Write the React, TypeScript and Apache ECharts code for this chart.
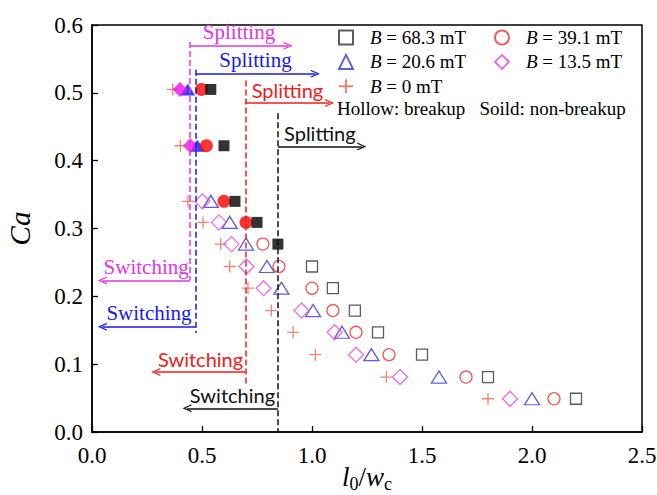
import React, { useEffect, useRef } from "react";
import * as echarts from "echarts";

// Ca vs l0/wc for each magnetic flux density B.
// "Solid" points did not break up, "hollow" points broke up.
const sq683Solid = [[0.54, 0.505], [0.6, 0.422], [0.65, 0.34], [0.75, 0.309], [0.845, 0.277]];
const sq683Hollow = [[1.0, 0.244], [1.095, 0.212], [1.195, 0.179], [1.3, 0.147], [1.5, 0.114], [1.8, 0.081], [2.2, 0.049]];

const ci391Solid = [[0.497, 0.505], [0.52, 0.422], [0.6, 0.34], [0.7, 0.309]];
const ci391Hollow = [[0.777, 0.277], [0.85, 0.244], [1.0, 0.212], [1.095, 0.179], [1.2, 0.147], [1.35, 0.114], [1.7, 0.081], [2.1, 0.049]];

const tr206Solid = [[0.435, 0.505], [0.48, 0.422]];
const tr206Hollow = [[0.54, 0.34], [0.626, 0.309], [0.7, 0.277], [0.795, 0.244], [0.861, 0.212], [1.005, 0.179], [1.136, 0.147], [1.27, 0.114], [1.577, 0.081], [2.0, 0.049]];

const di135Solid = [[0.4, 0.505], [0.447, 0.422]];
const di135Hollow = [[0.502, 0.34], [0.577, 0.309], [0.634, 0.277], [0.702, 0.244], [0.78, 0.212], [0.952, 0.179], [1.103, 0.147], [1.2, 0.114], [1.4, 0.081], [1.9, 0.049]];

const plus0 = [[0.367, 0.505], [0.402, 0.422], [0.436, 0.34], [0.505, 0.309], [0.585, 0.277], [0.626, 0.244], [0.709, 0.212], [0.815, 0.179], [0.914, 0.147], [1.015, 0.114], [1.338, 0.081], [1.8, 0.049]];

// Regime boundaries (13.5, 20.6, 39.1, 68.3 mT) and their annotation arrows
const guideX = [0.445, 0.471, 0.697, 0.845];
const guideTop = [0.575, 0.534, 0.518, 0.47];
const guideBottom = [0.2235, 0.146, 0.07, 0];
const splitY = [0.5695, 0.528, 0.485, 0.421];
const splitEnd = [0.891, 1.015, 1.08, 1.226];
const switchY = [0.2235, 0.155, 0.0885, 0.035];
const switchEnd = [0.047, 0.047, 0.29, 0.432];
const guideColors = ["#e335e3", "#1a1ae6", "#f01c1c", "#111111"];

const xTicks = { min: 0, max: 2.5, step: 0.5 };
const yTicks = { min: 0, max: 0.6, step: 0.1 };

const SERIF = "'Liberation Serif', 'Times New Roman', serif";
const SANS = "Lato, 'Liberation Sans', sans-serif";
const guideFonts = [SERIF, SERIF, SANS, SANS];
const guideSizes = [21, 21, 20, 20];
const PLUS = "path://M0,5L10,5M5,0L5,10";
const CHEVRON = "path://M0,10L5,0L10,10L8.4,10L5,3.2L1.6,10Z";

function hollow(name: string, data: number[][], symbol: string, size: any, color: string) {
  return {
    name,
    type: "scatter",
    data,
    symbol,
    symbolSize: size,
    itemStyle: { color: "rgba(0,0,0,0)", borderColor: color, borderWidth: 1.3 },
    emphasis: { disabled: true },
  };
}

function solid(name: string, data: number[][], symbol: string, size: any, color: string) {
  return {
    name,
    type: "scatter",
    data,
    symbol,
    symbolSize: size,
    itemStyle: { color, borderWidth: 0 },
    emphasis: { disabled: true },
  };
}

function guideLines() {
  const items: any[] = [];
  guideX.forEach((x, i) => {
    const color = guideColors[i];
    const label = (text: string) => ({
      show: true,
      position: "middle",
      formatter: text,
      distance: 3,
      color,
      fontFamily: guideFonts[i],
      fontSize: guideSizes[i],
    });
    items.push([
      { coord: [x, guideTop[i]], symbol: "none", lineStyle: { color, type: [6, 3], width: 1.5 }, label: { show: false } },
      { coord: [x, guideBottom[i]], symbol: "none" },
    ]);
    items.push([
      { coord: [x, splitY[i]], symbol: "none", lineStyle: { color, type: "solid", width: 1.5 }, label: label("Splitting") },
      { coord: [splitEnd[i], splitY[i]], symbol: CHEVRON },
    ]);
    items.push([
      { coord: [switchEnd[i], switchY[i]], symbol: CHEVRON, lineStyle: { color, type: "solid", width: 1.5 }, label: label("Switching") },
      { coord: [x, switchY[i]], symbol: "none" },
    ]);
  });
  return items;
}

const legendText = (name: string) => `{g| }{i|B}{t|${name.slice(1)}}`;
const legendStyle = {
  fontFamily: SERIF,
  fontSize: 19,
  color: "#000",
  lineHeight: 14,
  rich: {
    g: { width: 12, fontSize: 19, lineHeight: 14 },
    i: { fontFamily: SERIF, fontStyle: "italic", fontSize: 19, color: "#000", lineHeight: 14 },
    t: { fontFamily: SERIF, fontSize: 19, color: "#000", lineHeight: 14 },
  },
};

export default function App() {
  const ref = useRef<HTMLDivElement>(null);

  useEffect(() => {
    if (!ref.current) return;
    const chart = echarts.init(ref.current, undefined, { renderer: "svg" });

    const axisBase = {
      type: "value",
      axisLine: { show: true, onZero: false, lineStyle: { color: "#000", width: 1.5 } },
      axisTick: { show: true, inside: true, length: 6, lineStyle: { color: "#000", width: 1.3 } },
      splitLine: { show: false },
    };
    const tickLabel = (margin: number) => ({
      margin,
      color: "#000",
      fontFamily: SERIF,
      fontSize: 23,
      formatter: (v: number) => v.toFixed(1),
    });

    chart.setOption({
      animation: false,
      backgroundColor: "#fff",
      textStyle: { fontFamily: SERIF },
      grid: {
        left: 92,
        right: 15,
        top: 25,
        bottom: 63,
        containLabel: false,
        outerBoundsMode: "none",
        show: true,
        borderColor: "#000",
        borderWidth: 1.5,
        backgroundColor: "rgba(0,0,0,0)",
      },
      xAxis: {
        ...axisBase,
        min: xTicks.min,
        max: xTicks.max,
        interval: xTicks.step,
        axisLabel: tickLabel(12),
        name: "{i|l}{s|0}{n|/}{i|w}{s|c}",
        nameLocation: "middle",
        nameMoveOverlap: false,
        nameGap: 29,
        nameTextStyle: {
          rich: {
            i: { fontFamily: SERIF, fontStyle: "italic", fontSize: 27, lineHeight: 32, color: "#000" },
            n: { fontFamily: SERIF, fontSize: 27, lineHeight: 32, color: "#000" },
            s: { fontFamily: SERIF, fontSize: 18, lineHeight: 14, verticalAlign: "bottom", color: "#000" },
          },
        },
      },
      yAxis: {
        ...axisBase,
        min: yTicks.min,
        max: yTicks.max,
        interval: yTicks.step,
        axisLabel: tickLabel(9),
        name: "Ca",
        nameLocation: "middle",
        nameGap: 58,
        nameTextStyle: { fontFamily: SERIF, fontStyle: "italic", fontSize: 29, color: "#000" },
      },
      legend: [
        {
          data: ["B = 68.3 mT", "B = 20.6 mT", "B = 0 mT"],
          orient: "vertical",
          left: 338,
          top: 28,
          padding: 0,
          itemGap: 5.4,
          itemWidth: 14,
          itemHeight: 14,
          selectedMode: false,
          formatter: legendText,
          textStyle: legendStyle,
        },
        {
          data: ["B = 39.1 mT", "B = 13.5 mT"],
          orient: "vertical",
          left: 494,
          top: 28,
          padding: 0,
          itemGap: 5.4,
          itemWidth: 14,
          itemHeight: 14,
          selectedMode: false,
          formatter: legendText,
          textStyle: legendStyle,
        },
      ],
      graphic: [
        {
          type: "text",
          left: 337,
          top: 99,
          style: { text: "Hollow: breakup   Soild: non-breakup", font: `19px ${SERIF}`, fill: "#000" },
        },
      ],
      series: [
        hollow("B = 0 mT", plus0, PLUS, 12, "#e8664e"),
        hollow("B = 20.6 mT", tr206Hollow, "triangle", [15, 12], "#3535dd"),
        solid("B = 20.6 mT non-breakup", tr206Solid, "triangle", [15, 12], "#1010ee"),
        hollow("B = 13.5 mT", di135Hollow, "diamond", [15, 15], "#e548e5"),
        solid("B = 13.5 mT non-breakup", di135Solid, "diamond", [15, 15], "#f010f0"),
        hollow("B = 39.1 mT", ci391Hollow, "circle", 12, "#e8332f"),
        solid("B = 39.1 mT non-breakup", ci391Solid, "circle", 13, "#ff0000"),
        hollow("B = 68.3 mT", sq683Hollow, "rect", 11, "#333333"),
        solid("B = 68.3 mT non-breakup", sq683Solid, "rect", 11, "#000000"),
        {
          name: "regimes",
          type: "scatter",
          data: [],
          markLine: {
            silent: true,
            animation: false,
            symbolSize: [8, 9],
            label: { show: false },
            emphasis: { disabled: true },
            data: guideLines(),
          },
        },
      ],
    });

    return () => chart.dispose();
  }, []);

  return (
    <div
      ref={ref}
      style={{ position: "fixed", left: 0, top: 0, width: 657, height: 495, background: "#fff" }}
    />
  );
}
